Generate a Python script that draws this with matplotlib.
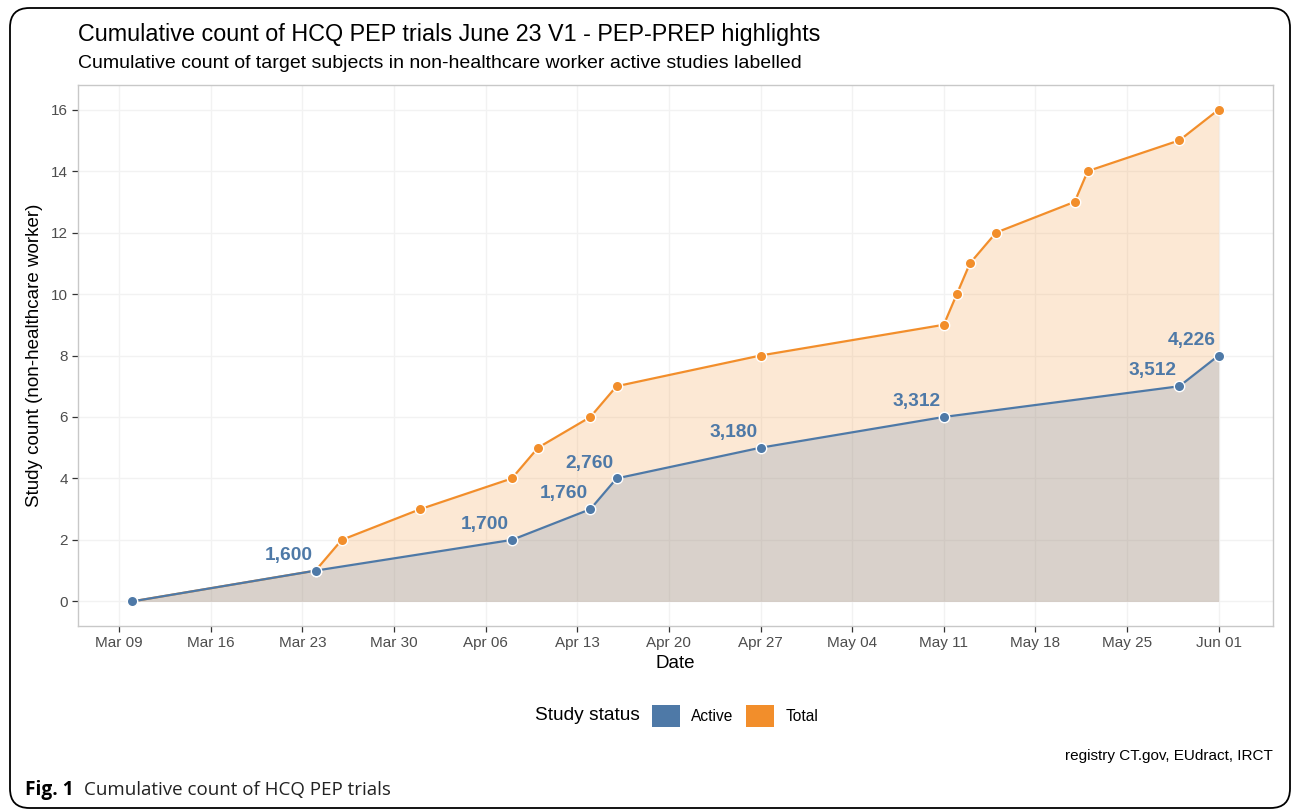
import matplotlib.pyplot as plt
from matplotlib.patches import FancyBboxPatch, Patch
import pandas as pd

plt.rcParams['font.family'] = ['Liberation Sans', 'DejaVu Sans']

# data
active_dates = pd.to_datetime(['2020-03-10', '2020-03-24', '2020-04-08', '2020-04-14', '2020-04-16',
                               '2020-04-27', '2020-05-11', '2020-05-29', '2020-06-01'])
active_counts = [0, 1, 2, 3, 4, 5, 6, 7, 8]
active_labels = ['', '1,600', '1,700', '1,760', '2,760', '3,180', '3,312', '3,512', '4,226']

total_dates = pd.to_datetime(['2020-03-10', '2020-03-24', '2020-03-26', '2020-04-01', '2020-04-08',
                              '2020-04-10', '2020-04-14', '2020-04-16', '2020-04-27', '2020-05-11',
                              '2020-05-12', '2020-05-13', '2020-05-15', '2020-05-21', '2020-05-22',
                              '2020-05-29', '2020-06-01'])
total_counts = [0, 1, 2, 3, 4, 5, 6, 7, 8, 9, 10, 11, 12, 13, 14, 15, 16]

BLUE = '#4E79A7'
ORANGE = '#F28E2B'

fig = plt.figure(figsize=(12.93, 8.10), dpi=100)
ax = fig.add_axes([0.0603, 0.2272, 0.9242, 0.6678])

# areas
ax.fill_between(total_dates, total_counts, 0, color=ORANGE, alpha=0.2, lw=0, zorder=2)
ax.fill_between(active_dates, active_counts, 0, color=BLUE, alpha=0.2, lw=0, zorder=3)

# lines + points
ax.plot(total_dates, total_counts, color=ORANGE, lw=1.6, zorder=4)
ax.plot(total_dates, total_counts, 'o', color=ORANGE, ms=7.5, mec='white', mew=1.0, zorder=5)
ax.plot(active_dates, active_counts, color=BLUE, lw=1.6, zorder=6)
ax.plot(active_dates, active_counts, 'o', color=BLUE, ms=7.5, mec='white', mew=1.0, zorder=7)

for d, c, lab in zip(active_dates, active_counts, active_labels):
    if lab:
        ax.annotate(lab, (d, c), xytext=(-2, 5), textcoords='offset points',
                    ha='right', va='bottom', color=BLUE, fontsize=13.8,
                    fontweight='bold', zorder=8)

# axes limits (ggplot-style 5% expansion)
x0 = active_dates[0]
x1 = active_dates[-1]
span = (x1 - x0) * 0.05
ax.set_xlim(x0 - span, x1 + span)
ax.set_ylim(-0.8, 16.8)

ticks = pd.date_range('2020-03-09', '2020-06-01', freq='7D')
ax.set_xticks(ticks)
ax.set_xticklabels([t.strftime('%b %d') for t in ticks])
ax.set_yticks(range(0, 17, 2))

ax.grid(which='major', color='#F2F2F2', lw=1.0, zorder=0)
ax.set_axisbelow(True)
for s in ax.spines.values():
    s.set_color('#C8C8C8')
    s.set_linewidth(1.0)
ax.tick_params(which='major', length=4, width=0.9, color='#333333', labelcolor='#4D4D4D',
               labelsize=11, pad=3)

ax.set_xlabel('Date', fontsize=13.5, labelpad=4)
ax.set_ylabel('Study count (non-healthcare worker)', fontsize=13.5, labelpad=6)

# titles
fig.text(78 / 1293, 1 - 35 / 810, 'Cumulative count of HCQ PEP trials June 23 V1 - PEP-PREP highlights',
         fontsize=16.8, va='center', ha='left')
fig.text(78 / 1293, 1 - 64 / 810, 'Cumulative count of target subjects in non-healthcare worker active studies labelled',
         fontsize=14, va='center', ha='left')

# legend
fig.text(535 / 1293, 1 - 716 / 810, 'Study status', fontsize=13.8, va='center', ha='left')
handles = [Patch(facecolor=BLUE, edgecolor='none', label='Active'),
           Patch(facecolor=ORANGE, edgecolor='none', label='Total')]
fig.legend(handles=handles, loc='center left', bbox_to_anchor=(652 / 1293, 1 - 716 / 810),
           ncol=2, frameon=False, fontsize=11.2, handlelength=1.8, handleheight=1.8,
           handletextpad=0.7, columnspacing=0.85, borderpad=0, borderaxespad=0)

# caption
fig.text(1273 / 1293, 1 - 756 / 810, 'registry CT.gov, EUdract, IRCT', fontsize=11,
         ha='right', va='center')

# figure caption
fig.text(25 / 1293, 1 - 790 / 810, 'Fig. 1', fontsize=13.8, fontweight='bold',
         family=['Open Sans', 'DejaVu Sans'], ha='left', va='center')
fig.text(84 / 1293, 1 - 790 / 810, 'Cumulative count of HCQ PEP trials', fontsize=13.5,
         family=['Open Sans', 'DejaVu Sans'], ha='left', va='center', color='#222222')

# outer rounded frame
frame = FancyBboxPatch((10 / 1293, 2 / 810), 1280 / 1293, 800 / 810,
                       boxstyle='round,pad=0,rounding_size=0.015',
                       transform=fig.transFigure, fill=False, ec='black', lw=1.3,
                       mutation_aspect=1293 / 810)
fig.patches.append(frame)

fig.savefig('out.png', dpi=100)
